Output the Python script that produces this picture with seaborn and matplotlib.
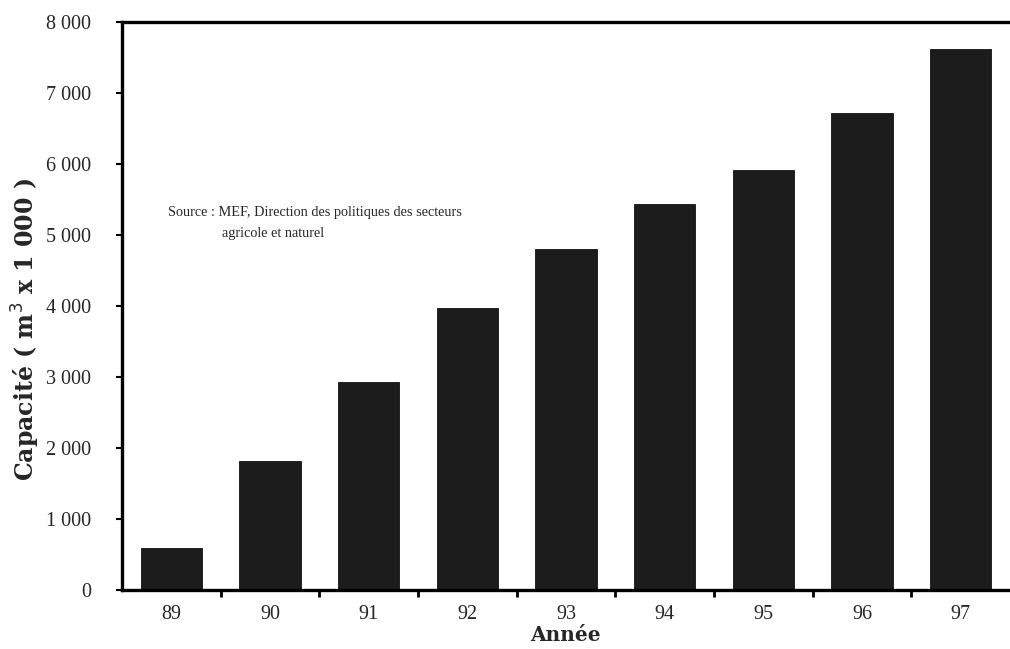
import numpy as np
import pandas as pd
import matplotlib
matplotlib.use("Agg")
import matplotlib.pyplot as plt
from matplotlib.ticker import FuncFormatter, FixedLocator
import seaborn as sns

# Capacité annuelle (milliers de m³)
annees = ["89", "90", "91", "92", "93", "94", "95", "96", "97"]
capacite = [590, 1820, 2930, 3970, 4800, 5440, 5910, 6720, 7620]
y_ticks = [0, 1000, 2000, 3000, 4000, 5000, 6000, 7000, 8000]
source_l1 = "Source : MEF, Direction des politiques des secteurs"
source_l2 = "agricole et naturel"

sns.set_style("ticks")
plt.rcParams["font.family"] = ["Liberation Serif", "DejaVu Serif"]

df = pd.DataFrame({"Année": annees, "Capacité": capacite})

fig = plt.figure(figsize=(10.1, 6.49), dpi=100)
ax = fig.add_axes([0.1208, 0.0909, 0.8792, 0.8752])

sns.barplot(data=df, x="Année", y="Capacité", color="#1c1c1c",
            saturation=1, width=0.62, ax=ax, edgecolor="#111111", linewidth=0.6)

ax.set_ylim(0, 8000)
ax.set_xlim(-0.5, len(annees) - 0.5)
ax.set_yticks(y_ticks)
ax.yaxis.set_major_formatter(FuncFormatter(lambda v, p: f"{int(v):,}".replace(",", " ")))

# category separators as small ticks below the axis
ax.xaxis.set_minor_locator(FixedLocator(np.arange(0.5, len(annees) - 1, 1)))
ax.tick_params(axis="x", which="major", length=0, pad=11, labelsize=14.5)
ax.tick_params(axis="x", which="minor", length=5, width=2, direction="out", color="black")
ax.tick_params(axis="y", which="major", length=4.5, width=1.5, direction="out",
               labelsize=14.5, pad=18, color="black")

for side in ["left", "bottom", "top"]:
    ax.spines[side].set_visible(True)
    ax.spines[side].set_linewidth(2.4)
    ax.spines[side].set_color("black")
ax.spines["right"].set_visible(False)

ax.set_xlabel("Année", fontsize=14.5, fontweight="bold", family="DejaVu Serif")
ax.xaxis.set_label_coords(0.499, -0.062)
ax.set_ylabel("Capacité ( m$^3$ x 1 000 )", fontsize=17, fontweight="bold", family="DejaVu Serif")
ax.yaxis.set_label_coords(-0.090, 0.458)

ax.text(0.052, 0.664, source_l1, transform=ax.transAxes, fontsize=10.3, ha="left", va="center")
ax.text(0.1126, 0.628, source_l2, transform=ax.transAxes, fontsize=10.3, ha="left", va="center")

fig.savefig("out.png", dpi=100)
